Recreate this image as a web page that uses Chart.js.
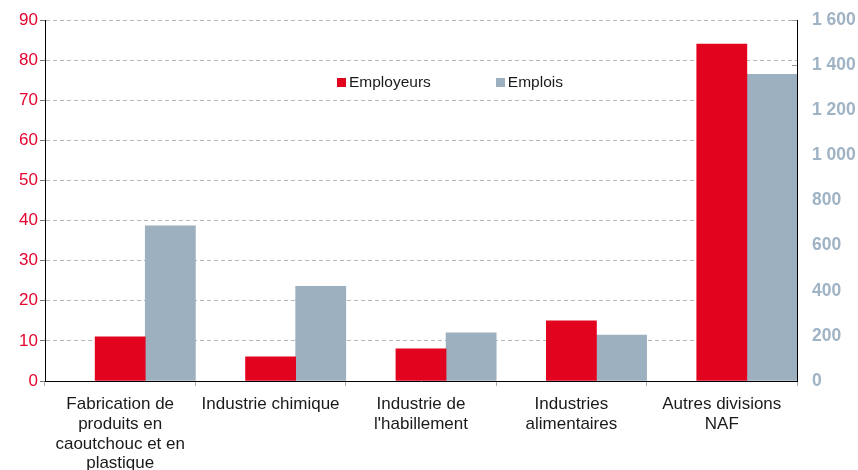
<!DOCTYPE html>
<html lang="fr">
<head>
<meta charset="utf-8">
<script src="https://cdn.jsdelivr.net/npm/chart.js@4/dist/chart.umd.min.js"></script>
<style>
  html, body { margin: 0; padding: 0; background: #fff; }
  #wrap { position: relative; width: 858px; height: 470px; font-family: "Liberation Sans", Arial, sans-serif; }
  #legend { position: absolute; top: 73px; left: 337px; font-size: 15.5px; color: #1a1a1a; white-space: nowrap; }
  #legend span.item { display: inline-block; margin-right: 65px; }
  #legend i { display: inline-block; width: 9px; height: 9px; margin-right: 3px; vertical-align: 0px; }
</style>
</head>
<body>
<div id="wrap">
  <canvas id="chart" width="858" height="470"></canvas>
  <div id="legend"></div>
</div>
<script>
const categories = [
  ["Fabrication de", "produits en", "caoutchouc et en", "plastique"],
  "Industrie chimique",
  ["Industrie de", "l'habillement"],
  ["Industries", "alimentaires"],
  ["Autres divisions", "NAF"]
];
const employeurs = [11, 6, 8, 15, 84];
const emplois = [688, 420, 214, 204, 1359];
const leftTicks = [0, 10, 20, 30, 40, 50, 60, 70, 80, 90];
const rightTicks = [0, 200, 400, 600, 800, 1000, 1200, 1400, 1600];

const RED = "#e2041f";
const BLUE = "#9cb0c0";

// legend drawn in html inside the plot
document.getElementById("legend").innerHTML =
  `<span class="item"><i style="background:${RED}"></i>Employeurs</span>` +
  `<span><i style="background:${BLUE}"></i>Emplois</span>`;

const spaced = (v) => String(v).replace(/\B(?=(\d{3})+(?!\d))/g, " ");

new Chart(document.getElementById("chart"), {
  type: "bar",
  data: {
    labels: categories,
    datasets: [
      {
        // empty first slot, keeps bars on the right of each category
        label: "",
        data: categories.map(() => null),
        yAxisID: "y",
        backgroundColor: "rgba(0,0,0,0)",
      },
      {
        label: "Employeurs",
        data: employeurs,
        yAxisID: "y",
        backgroundColor: RED,
      },
      {
        label: "Emplois",
        data: emplois,
        yAxisID: "y1",
        backgroundColor: BLUE,
      },
    ],
  },
  options: {
    responsive: false,
    animation: false,
    datasets: { bar: { categoryPercentage: 1, barPercentage: 1 } },
    layout: { padding: { top: 0, left: 0, right: 0, bottom: 0 } },
    plugins: { legend: { display: false }, tooltip: { enabled: false } },
    scales: {
      x: {
        afterFit: (s) => { s.height = 89; },
        grid: { drawOnChartArea: false, tickLength: 5, color: "#aaa" },
        border: { color: "#000", width: 1 },
        ticks: {
          color: "#1a1a1a",
          padding: 9,
          maxRotation: 0,
          autoSkip: false,
          font: { family: "Liberation Sans", size: 17, lineHeight: 1.15 },
        },
      },
      y: {
        position: "left",
        min: 0,
        max: 90,
        afterFit: (s) => { s.width = 45; s.paddingTop = 20; },
        afterBuildTicks: (s) => { s.ticks = leftTicks.map((v) => ({ value: v })); },
        grid: { color: "#b8b8b8", tickColor: "#777", tickLength: 5 },
        border: { color: "#000", width: 1, dash: [4, 3] },
        ticks: {
          color: "#e4032e",
          padding: 2,
          font: { family: "Liberation Sans", size: 17 },
        },
      },
      y1: {
        position: "right",
        min: 0,
        max: 1600,
        afterFit: (s) => { s.width = 61; s.paddingTop = 20; },
        afterBuildTicks: (s) => { s.ticks = rightTicks.map((v) => ({ value: v })); },
        grid: { drawOnChartArea: false, tickColor: "#999", tickLength: -5 },
        border: { color: "#000", width: 1 },
        ticks: {
          color: "#9fb3c5",
          padding: 20,
          callback: (v) => spaced(v),
          font: { family: "Liberation Sans", size: 17.5, weight: "bold" },
        },
      },
    },
  },
});
</script>
</body>
</html>
